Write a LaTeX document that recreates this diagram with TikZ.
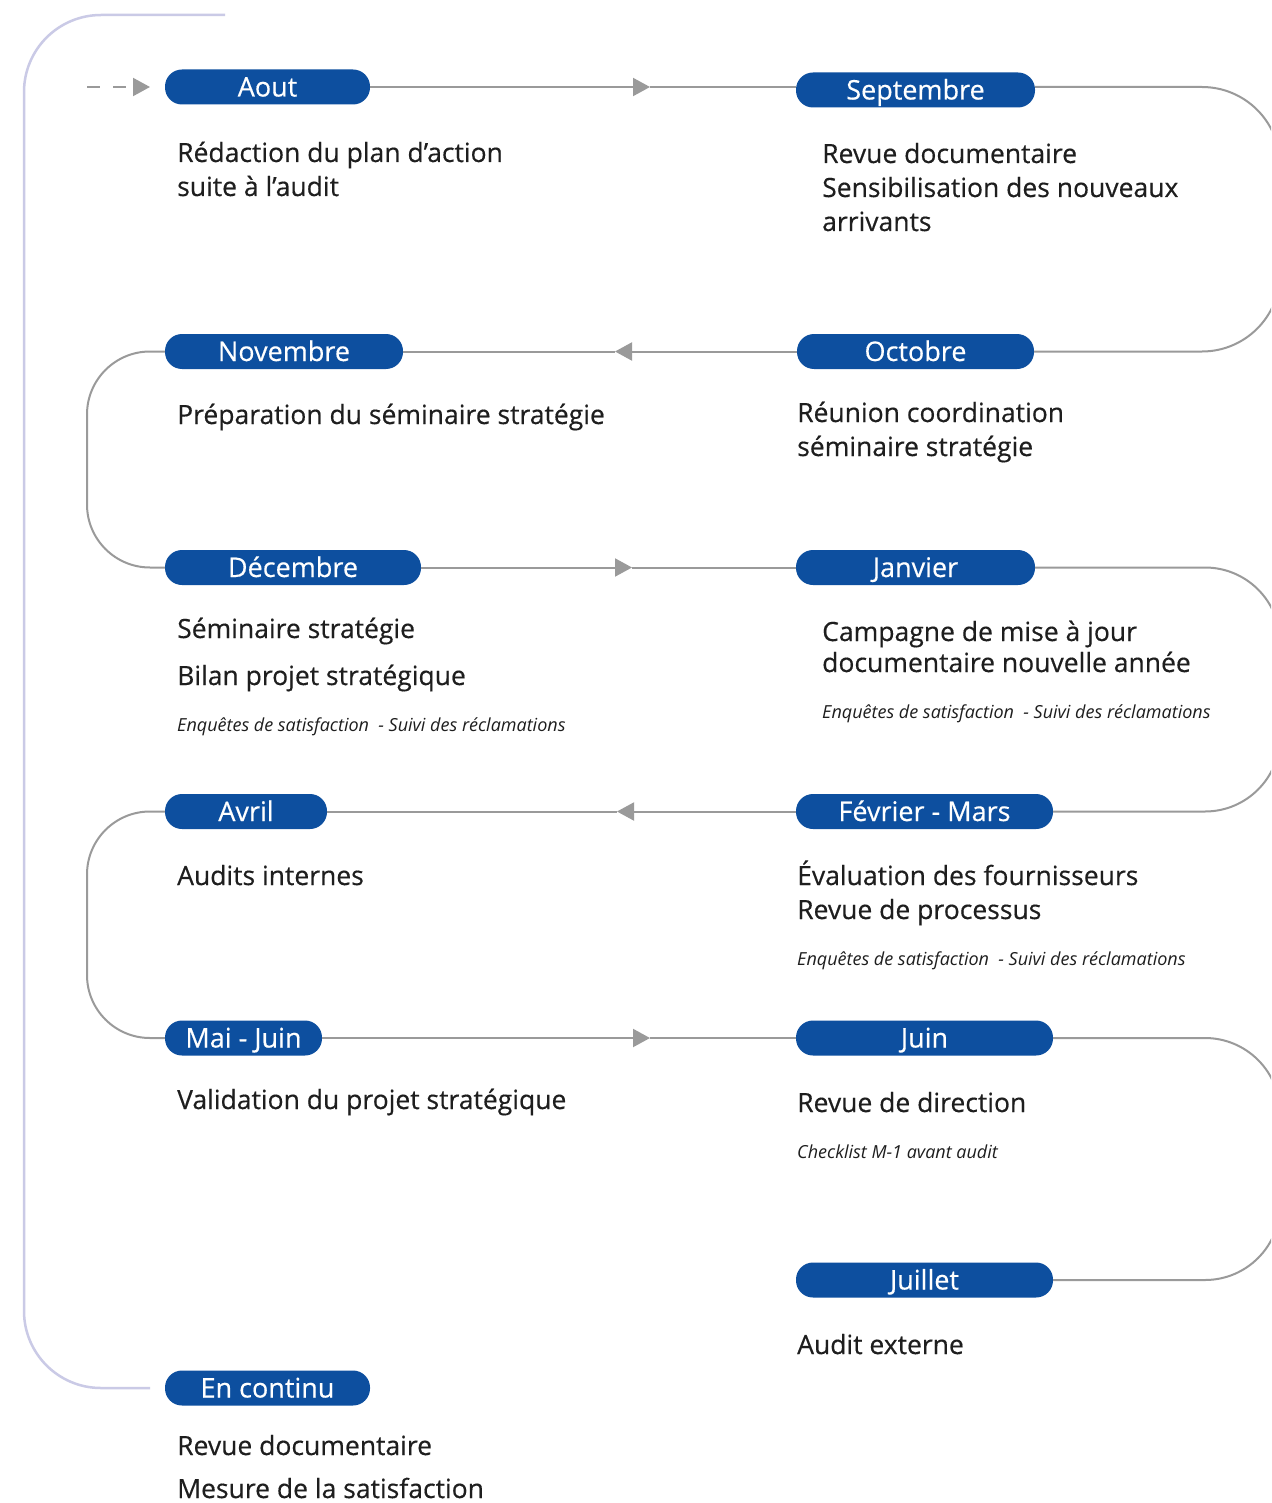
\documentclass[tikz,border=0pt]{standalone}
\usepackage{fontspec}
\setmainfont{Open Sans}
\newfontfamily\medfont{Open Sans}[FakeBold=0.4]
\usetikzlibrary{arrows.meta}
\definecolor{pillblue}{HTML}{0D4F9F}
\definecolor{conngrey}{HTML}{9A9A9A}
\definecolor{lavender}{HTML}{CACAE6}
\definecolor{textdark}{HTML}{1E1E1E}
\begin{document}
\begin{tikzpicture}[x=1pt,y=-1pt,
  pill/.style={fill=pillblue, text=white, rounded corners=17pt, minimum height=35pt,
    inner sep=0pt, text height=19pt, text depth=0pt, font=\medfont\fontsize{27}{30}\selectfont},
  txt/.style={anchor=base west, inner sep=0pt, text=textdark, font=\medfont\fontsize{26.5}{30}\selectfont},
  note/.style={anchor=base west, inner sep=0pt, text=textdark, font=\fontsize{18}{21}\selectfont\itshape},
  conn/.style={draw=conngrey, line width=2pt},
  tip/.style={-{Triangle[length=17pt,width=18pt]}},
  lav/.style={draw=lavender, line width=2.5pt}]
\useasboundingbox (0,0) rectangle (1271,1503);
\clip (0,0) rectangle (1271,1503);
\fill[white] (0,0) rectangle (1271,1503);

% month pills
\node[pill, minimum width=205pt] (aout) at (267.5,87) {Aout};
\node[pill, minimum width=239pt] (sept) at (915.5,90) {Septembre};
\node[pill, minimum width=238pt] (nov)  at (284,351.5) {Novembre};
\node[pill, minimum width=237pt] (oct)  at (915.5,351.5) {Octobre};
\node[pill, minimum width=256pt] (dec)  at (293,567.5) {Décembre};
\node[pill, minimum width=239pt] (jan)  at (915.5,567.5) {Janvier};
\node[pill, minimum width=162pt] (avr)  at (246,811.5) {Avril};
\node[pill, minimum width=257pt] (fev)  at (924.5,811.5) {Février - Mars};
\node[pill, minimum width=157pt] (mai)  at (243.5,1038) {Mai - Juin};
\node[pill, minimum width=257pt] (juin) at (924.5,1038) {Juin};
\node[pill, minimum width=257pt] (juil) at (924.5,1280) {Juillet};
\node[pill, minimum width=205pt] (cont) at (267.5,1388) {En continu};

% helper coordinates
\coordinate (start) at (87,87);
\coordinate (startend) at (150,87);
\coordinate (a1) at (650,87);
\coordinate (a2) at (615,351.5);
\coordinate (a3) at (632,567.5);
\coordinate (a4) at (617,811.5);
\coordinate (a5) at (650,1038);
\coordinate (rx) at (1280,0);
\coordinate (lx) at (87,0);
\coordinate (lt) at (225,15);
\coordinate (lb) at (150,1388);

% connectors
\draw[conn, tip, dash pattern=on 13pt off 13pt] (start) -- (startend);
\draw[conn, tip] (aout.east) -- (a1);
\draw[conn] (a1) -- (a1 -| sept.west);
\draw[conn, rounded corners=78pt] (sept.east |- aout.east) -- (rx |- aout.east) -- (rx |- oct.east) -- (oct.east);
\draw[conn, tip] (oct.west) -- (a2);
\draw[conn] (a2) -- (nov.east);
\draw[conn, rounded corners=63pt] (nov.west) -- (lx |- nov.west) -- (lx |- dec.west) -- (dec.west);
\draw[conn, tip] (dec.east) -- (a3);
\draw[conn] (a3) -- (jan.west);
\draw[conn, rounded corners=75pt] (jan.east) -- (rx |- jan.east) -- (rx |- fev.east) -- (fev.east);
\draw[conn, tip] (fev.west) -- (a4);
\draw[conn] (a4) -- (avr.east);
\draw[conn, rounded corners=63pt] (avr.west) -- (lx |- avr.west) -- (lx |- mai.west) -- (mai.west);
\draw[conn, tip] (mai.east) -- (a5);
\draw[conn] (a5) -- (juin.west);
\draw[conn, rounded corners=75pt] (juin.east) -- (rx |- juin.east) -- (rx |- juil.east) -- (juil.east);
\draw[lav, rounded corners=77pt] (lt) -- (24,15) -- (24,1388) -- (lb);

% texts
\node[txt] (t1a) at (177,162) {Rédaction du plan d’action};
\node[txt] (t1b) at (177,196) {suite à l’audit};
\node[txt] (t2a) at (822,163) {Revue documentaire};
\node[txt] (t2b) at (822,197) {Sensibilisation des nouveaux};
\node[txt] (t2c) at (822,231) {arrivants};
\node[txt] (t3a) at (177,424) {Préparation du séminaire stratégie};
\node[txt] (t4a) at (797,422) {Réunion coordination};
\node[txt] (t4b) at (797,456) {séminaire stratégie};
\node[txt] (t5a) at (177,638) {Séminaire stratégie};
\node[txt] (t5b) at (177,685) {Bilan projet stratégique};
\node[note] (t5c) at (177,731) {Enquêtes de satisfaction\ \ - Suivi des réclamations};
\node[txt] (t6a) at (822,641) {Campagne de mise à jour};
\node[txt] (t6b) at (822,672) {documentaire nouvelle année};
\node[note] (t6c) at (822,718) {Enquêtes de satisfaction\ \ - Suivi des réclamations};
\node[txt] (t7a) at (177,885) {Audits internes};
\node[txt] (t8a) at (797,885) {Évaluation des fournisseurs};
\node[txt] (t8b) at (797,919) {Revue de processus};
\node[note] (t8c) at (797,965) {Enquêtes de satisfaction\ \ - Suivi des réclamations};
\node[txt] (t9a) at (177,1109) {Validation du projet stratégique};
\node[txt] (t10a) at (797,1112) {Revue de direction};
\node[note] (t10b) at (797,1158) {Checklist M-1 avant audit};
\node[txt] (t11a) at (797,1354) {Audit externe};
\node[txt] (t12a) at (177,1455) {Revue documentaire};
\node[txt] (t12b) at (177,1498) {Mesure de la satisfaction};
\end{tikzpicture}
\end{document}
